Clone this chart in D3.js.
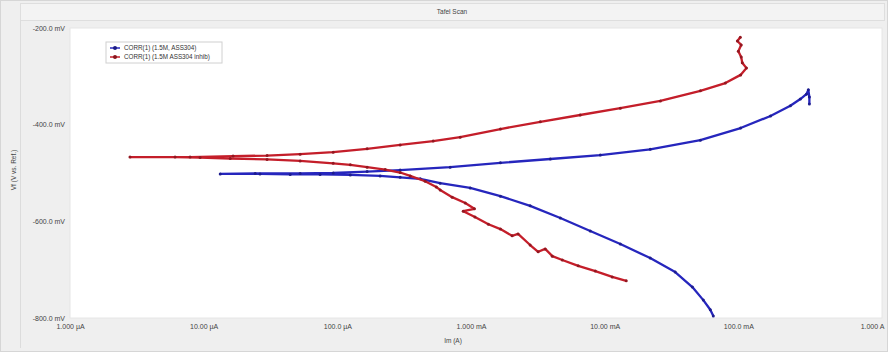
<!DOCTYPE html>
<html>
<head>
<meta charset="utf-8">
<script src="https://cdn.jsdelivr.net/npm/d3@7/dist/d3.min.js"></script>
<style>
  body { margin: 0; background: #efefef; }
  svg { display: block; font-family: "Liberation Sans", Arial, sans-serif; }
</style>
</head>
<body>
<script>
// Tafel scan, current (A) vs potential (mV vs Ref)
var title = "Tafel Scan";
var seriesNames = ["CORR(1) (1.5M, ASS304)", "CORR(1) (1.5M ASS304 inhib)"];
var seriesColors = ["#2626bd", "#c41e2a"];
var xTicks = [1e-6, 1e-5, 1e-4, 1e-3, 1e-2, 1e-1, 1];
var xTickLabels = ["1.000 µA", "10.00 µA", "100.0 µA", "1.000 mA", "10.00 mA", "100.0 mA", "1.000 A"];
var yTicks = [-200, -400, -600, -800];
var yTickLabels = ["-200.0 mV", "-400.0 mV", "-600.0 mV", "-800.0 mV"];

// series 1 (blue), scan order
var blueCurrent = [6.50e-2, 6.17e-2, 5.47e-2, 4.53e-2, 3.37e-2, 2.19e-2, 1.31e-2, 7.80e-3, 4.66e-3, 2.77e-3,
  1.66e-3, 9.86e-4, 5.88e-4, 4.17e-4, 2.95e-4, 2.09e-4, 1.25e-4, 7.43e-5, 4.44e-5, 2.64e-5, 1.33e-5,
  2.43e-5, 5.27e-5, 9.31e-5, 1.67e-4, 2.95e-4, 6.98e-4, 1.66e-3, 3.92e-3, 9.27e-3, 2.19e-2, 5.20e-2,
  1.04e-1, 1.74e-1, 2.45e-1, 2.91e-1, 3.23e-1, 3.34e-1, 3.40e-1, 3.40e-1];
var bluePotential = [-796, -783, -763, -736, -705, -676, -647, -620, -593, -568,
  -548, -531, -521, -512, -509, -506, -504, -503, -503, -502, -502,
  -501, -501, -500, -497, -494, -488, -479, -471, -463, -451, -432,
  -407, -382, -361, -347, -337, -328, -343, -357];

// series 2 (red), scan order
var redCurrent = [1.45e-2, 1.14e-2, 8.51e-3, 6.34e-3, 4.82e-3, 4.06e-3, 3.59e-3, 3.18e-3, 2.77e-3, 2.25e-3,
  2.03e-3, 1.66e-3, 1.35e-3, 1.07e-3, 8.75e-4, 1.06e-3, 9.06e-4, 7.23e-4, 5.88e-4, 5.50e-4,
  4.54e-4, 3.51e-4, 2.95e-4, 2.28e-4, 1.67e-4, 1.25e-4, 9.31e-5, 5.27e-5, 2.98e-5, 1.58e-5,
  9.40e-6, 6.11e-6, 2.81e-6,
  7.91e-6, 1.66e-5, 2.98e-5, 5.27e-5, 9.31e-5, 1.67e-4, 2.95e-4, 5.21e-4, 8.30e-4, 1.66e-3,
  3.30e-3, 6.56e-3, 1.31e-2, 2.61e-2, 5.20e-2, 8.00e-2, 1.04e-1, 1.15e-1, 1.07e-1, 1.05e-1,
  1.00e-1, 1.05e-1, 9.84e-2, 1.035e-1];
var redPotential = [-723, -715, -703, -692, -680, -672, -657, -663, -649, -626,
  -630, -616, -606, -591, -579, -574, -562, -550, -535, -529,
  -517, -506, -499, -493, -488, -483, -480, -475, -472, -470,
  -468, -467, -467,
  -467, -465, -464, -461, -457, -450, -442, -434, -426, -409,
  -394, -380, -366, -351, -330, -314, -297, -283, -272, -260,
  -248, -235, -227, -219];

var W = 888, H = 352;
var plot = {left: 70, right: 882, top: 28, bottom: 318};

var svg = d3.select("body").append("svg")
  .attr("width", W)
  .attr("height", H);

// frame
svg.append("rect").attr("x", 0).attr("y", 0).attr("width", W).attr("height", H).attr("fill", "#efefef");
svg.append("rect").attr("x", 0.5).attr("y", 0.5).attr("width", W - 1).attr("height", H - 1)
  .attr("fill", "none").attr("stroke", "#d6d6d6");
svg.append("rect").attr("x", 20.5).attr("y", 3.5).attr("width", W - 24).attr("height", 17)
  .attr("fill", "#f3f3f3").attr("stroke", "#dedede");
svg.append("line").attr("x1", 20.5).attr("x2", 20.5).attr("y1", 20).attr("y2", H - 4)
  .attr("stroke", "#dcdcdc");

svg.append("text")
  .attr("x", 452).attr("y", 14)
  .attr("text-anchor", "middle")
  .attr("font-size", 6.5)
  .attr("fill", "#444")
  .text(title);

// plot area
svg.append("rect")
  .attr("x", plot.left).attr("y", plot.top)
  .attr("width", plot.right - plot.left).attr("height", plot.bottom - plot.top)
  .attr("fill", "#fff")
  .attr("stroke", "#e6e6e6");

var x = d3.scaleLog()
  .domain([1e-6, 1])
  .range([70, 872]);

var y = d3.scaleLinear()
  .domain([-800, -200])
  .range([plot.bottom, plot.top]);

var xAxis = d3.axisBottom(x)
  .tickValues(xTicks)
  .tickSize(0)
  .tickPadding(5)
  .tickFormat(function(d, i) { return xTickLabels[i]; });

var yAxis = d3.axisLeft(y)
  .tickValues(yTicks)
  .tickSize(0)
  .tickPadding(5)
  .tickFormat(function(d, i) { return yTickLabels[i]; });

var gx = svg.append("g")
  .attr("class", "x axis")
  .attr("transform", "translate(0," + (plot.bottom + 1) + ")")
  .call(xAxis);

var gy = svg.append("g")
  .attr("class", "y axis")
  .attr("transform", "translate(" + plot.left + ",0)")
  .call(yAxis);

[gx, gy].forEach(function(g) {
  g.select(".domain").remove();
  g.selectAll("text").attr("font-size", 7).attr("fill", "#444");
});

// axis titles
svg.append("text")
  .attr("x", 453).attr("y", 343)
  .attr("text-anchor", "middle")
  .attr("font-size", 6.5)
  .attr("fill", "#444")
  .text("Im (A)");

svg.append("text")
  .attr("transform", "translate(16,170) rotate(-90)")
  .attr("text-anchor", "middle")
  .attr("font-size", 6.5)
  .attr("fill", "#444")
  .text("Vf (V vs. Ref.)");

// curves
var series = [
  {cur: blueCurrent, pot: bluePotential, color: seriesColors[0]},
  {cur: redCurrent, pot: redPotential, color: seriesColors[1]}
];

var line = d3.line()
  .x(function(d) { return x(d[0]); })
  .y(function(d) { return y(d[1]); });

var clip = svg.append("clipPath").attr("id", "clip")
  .append("rect")
  .attr("x", plot.left).attr("y", plot.top)
  .attr("width", plot.right - plot.left).attr("height", plot.bottom - plot.top);

var curves = svg.append("g").attr("clip-path", "url(#clip)");

series.forEach(function(s) {
  var pts = s.cur.map(function(c, i) { return [c, s.pot[i]]; });

  curves.append("path")
    .datum(pts)
    .attr("fill", "none")
    .attr("stroke", s.color)
    .attr("stroke-width", 2.3)
    .attr("stroke-linejoin", "round")
    .attr("d", line);

  curves.selectAll(null)
    .data(pts)
    .enter().append("circle")
    .attr("cx", function(d) { return x(d[0]); })
    .attr("cy", function(d) { return y(d[1]); })
    .attr("r", 1.5)
    .attr("fill", d3.color(s.color).darker(0.8));
});

// legend
var legend = svg.append("g").attr("transform", "translate(106,42)");
legend.append("rect")
  .attr("width", 116).attr("height", 21)
  .attr("fill", "#fff")
  .attr("stroke", "#d0d0d0");

seriesNames.forEach(function(name, i) {
  var row = legend.append("g").attr("transform", "translate(0," + (6 + i * 9) + ")");
  row.append("line")
    .attr("x1", 4).attr("x2", 14)
    .attr("stroke", seriesColors[i]).attr("stroke-width", 1.5);
  row.append("circle")
    .attr("cx", 9).attr("r", 2)
    .attr("fill", d3.color(seriesColors[i]).darker(1));
  row.append("text")
    .attr("x", 18).attr("y", 2.2)
    .attr("font-size", 6.3)
    .attr("fill", "#333")
    .text(name);
});
</script>
</body>
</html>
